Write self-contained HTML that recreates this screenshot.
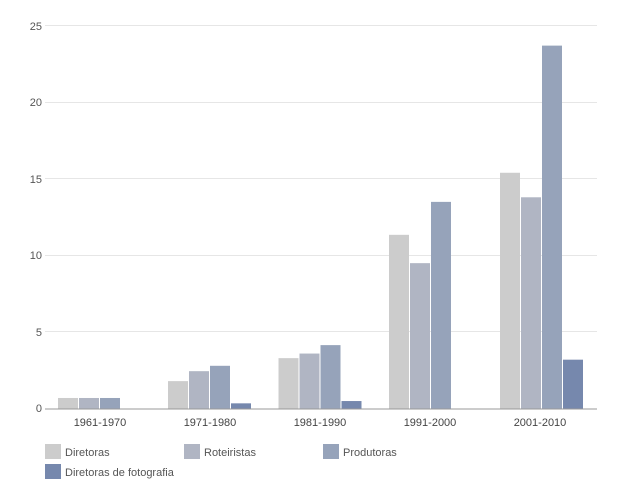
<!DOCTYPE html>
<html><head><style>body{margin:0;background:#fff}svg{display:block;font-family:"Liberation Sans",Arial,sans-serif}</style></head><body>
<svg width="623" height="496" xmlns="http://www.w3.org/2000/svg">
<g stroke="#e6e6e6" stroke-width="1">
<line x1="45" x2="597" y1="25.5" y2="25.5"/><line x1="45" x2="597" y1="102.5" y2="102.5"/><line x1="45" x2="597" y1="178.5" y2="178.5"/><line x1="45" x2="597" y1="255.5" y2="255.5"/><line x1="45" x2="597" y1="331.5" y2="331.5"/>
</g>
<g font-size="11" fill="#555" text-anchor="end">
<text x="42" y="30">25</text><text x="42" y="106">20</text><text x="42" y="183">15</text><text x="42" y="259">10</text><text x="42" y="336">5</text><text x="42" y="412">0</text>
</g>
<g>
<rect x="58" y="397.98" width="20" height="10.72" fill="#cccccc"/>
<rect x="79" y="397.98" width="20" height="10.72" fill="#b0b5c3"/>
<rect x="100" y="397.98" width="20" height="10.72" fill="#96a3ba"/>
<rect x="168" y="381.12" width="20" height="27.58" fill="#cccccc"/>
<rect x="189" y="371.17" width="20" height="37.53" fill="#b0b5c3"/>
<rect x="210" y="365.8" width="20" height="42.9" fill="#96a3ba"/>
<rect x="231" y="403.34" width="20" height="5.36" fill="#7688ad"/>
<rect x="278.5" y="358.14" width="20" height="50.56" fill="#cccccc"/>
<rect x="299.5" y="353.55" width="20" height="55.15" fill="#b0b5c3"/>
<rect x="320.5" y="345.12" width="20" height="63.58" fill="#96a3ba"/>
<rect x="341.5" y="401.04" width="20" height="7.66" fill="#7688ad"/>
<rect x="389" y="234.82" width="20" height="173.88" fill="#cccccc"/>
<rect x="410" y="263.16" width="20" height="145.54" fill="#b0b5c3"/>
<rect x="431" y="201.88" width="20" height="206.82" fill="#96a3ba"/>
<rect x="500" y="172.77" width="20" height="235.93" fill="#cccccc"/>
<rect x="521" y="197.28" width="20" height="211.42" fill="#b0b5c3"/>
<rect x="542" y="45.62" width="20" height="363.08" fill="#96a3ba"/>
<rect x="563" y="359.68" width="20" height="49.02" fill="#7688ad"/>
</g>
<line x1="45" x2="597" y1="409" y2="409" stroke="#999" stroke-width="1"/>
<g font-size="11" fill="#444" text-anchor="middle">
<text x="100" y="426">1961-1970</text><text x="210" y="426">1971-1980</text><text x="320" y="426">1981-1990</text><text x="430" y="426">1991-2000</text><text x="540" y="426">2001-2010</text>
</g>
<g font-size="11" fill="#555">
<rect x="45" y="444" width="16" height="15" fill="#cccccc"/><text x="65" y="456">Diretoras</text>
<rect x="184" y="444" width="16" height="15" fill="#b0b5c3"/><text x="204" y="456">Roteiristas</text>
<rect x="323" y="444" width="16" height="15" fill="#96a3ba"/><text x="343" y="456">Produtoras</text>
<rect x="45" y="464" width="16" height="15" fill="#7688ad"/><text x="65" y="476">Diretoras de fotografia</text>
</g>
</svg>
</body></html>
